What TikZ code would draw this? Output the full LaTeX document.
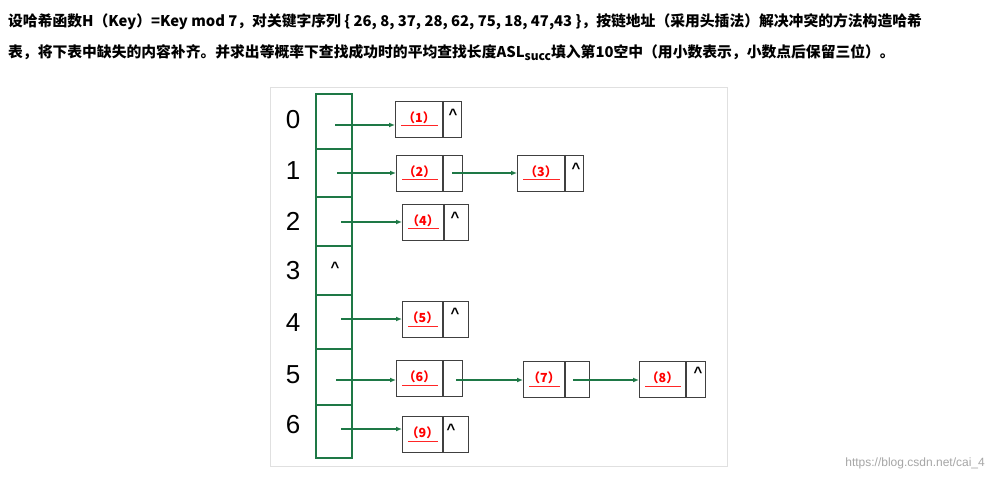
\documentclass[tikz,border=0pt]{standalone}
\usepackage{fontspec}
\setmainfont{Liberation Sans}
\newfontfamily\cjk{Noto Sans CJK SC}
\usetikzlibrary{arrows.meta}
\begin{document}
\begin{tikzpicture}[x=1pt,y=-1pt,
  cell/.style={draw=black!75,line width=1.1pt,minimum height=36pt,inner sep=0pt,anchor=north west},
  lbl/.style={text=red,font=\cjk\bfseries\fontsize{12.5}{12.5}\selectfont},
  ul/.style={red!85,line width=1pt},
  nil/.style={font=\fontsize{15}{15}\selectfont\bfseries},
  idx/.style={font=\fontsize{26}{26}\selectfont},
  arr/.style={draw={rgb,255:red,30;green,120;blue,70},line width=1.2pt,-{Latex[length=6pt,width=5pt]}},
  hdr/.style={anchor=west,font=\cjk\bfseries\fontsize{14.8}{14.8}\selectfont,inner sep=0pt}]
\useasboundingbox (0,0) rectangle (993,481);
\fill[white] (0,0) rectangle (993,481);
\node[hdr] (h1) at (8,22) {设哈希函数H（Key）=Key mod 7，对关键字序列 \{ 26, 8, 37, 28, 62, 75, 18, 47,43 \}，按链地址（采用头插法）解决冲突的方法构造哈希};
\node[hdr] (h2) at (8,53) {表，将下表中缺失的内容补齐。并求出等概率下查找成功时的平均查找长度ASL\raisebox{-3pt}{\fontsize{12}{12}\selectfont succ}填入第10空中（用小数表示，小数点后保留三位）。};
\draw[black!12,line width=0.8pt] (270,87) rectangle (727,466);
\node[text=black!35,font=\fontsize{12}{12}\selectfont,anchor=east,inner sep=0pt] (wm) at (985,463) {https://blog.csdn.net/cai\_4};
% table column
\begin{scope}[draw={rgb,255:red,30;green,120;blue,70},line width=1.2pt]
\draw (316,94) rectangle (352,458);
\foreach \y in {149,197,246,295,349,405} \draw (316,\y) -- (352,\y);
\end{scope}
\foreach \i/\y in {0/120,1/171,2/221,3/271,4/323,5/375,6/425} \node[idx] (n\i) at (293,\y) {\i};
\node[nil] (t3) at (335,267) {\^{}};
% list boxes
\newcommand{\lbox}[6]{% name, x, y, divider, right x, label
  \node[cell,minimum width=#5-#2] (#1) at (#2,#3) {};
  \draw[black!75,line width=1.1pt] (#4,#3) -- (#4,#3+36);
  \node[lbl] (#1l) at ({(#2+#4)/2},#3+17) {（#6）};
  \draw[ul] ({#2+6},#3+25) -- ({#4-5},#3+25);
}
\lbox{b1}{395}{101}{443}{461}{1}
\lbox{b2}{396}{155}{443}{462}{2}
\lbox{b3}{517}{155}{565}{583}{3}
\lbox{b4}{402}{204}{444}{468}{4}
\lbox{b5}{402}{301}{443}{468}{5}
\lbox{b6}{396}{360}{443}{462}{6}
\lbox{b7}{523}{361}{565}{589}{7}
\lbox{b8}{639}{361}{686}{705}{8}
\lbox{b9}{402}{416}{443}{468}{9}
\foreach \b/\x/\y in {b1/453/114,b3/576/168,b4/455/217,b5/455/313,b8/698/372,b9/451/429} \node[nil] (\b n) at (\x,\y) {\^{}};
% arrow starts
\coordinate (s0) at (335,125); \coordinate (s1) at (337,173); \coordinate (s2) at (341,222);
\coordinate (s4) at (341,319); \coordinate (s5) at (336,380); \coordinate (s6) at (341,429);
\coordinate (p2) at (452,173); \coordinate (p6) at (456,380); \coordinate (p7) at (573,380);
\draw[arr] (s0) -- (s0 -| b1.west);
\draw[arr] (s1) -- (s1 -| b2.west);
\draw[arr] (p2) -- (p2 -| b3.west);
\draw[arr] (s2) -- (s2 -| b4.west);
\draw[arr] (s4) -- (s4 -| b5.west);
\draw[arr] (s5) -- (s5 -| b6.west);
\draw[arr] (p6) -- (p6 -| b7.west);
\draw[arr] (p7) -- (p7 -| b8.west);
\draw[arr] (s6) -- (s6 -| b9.west);
\end{tikzpicture}
\end{document}
